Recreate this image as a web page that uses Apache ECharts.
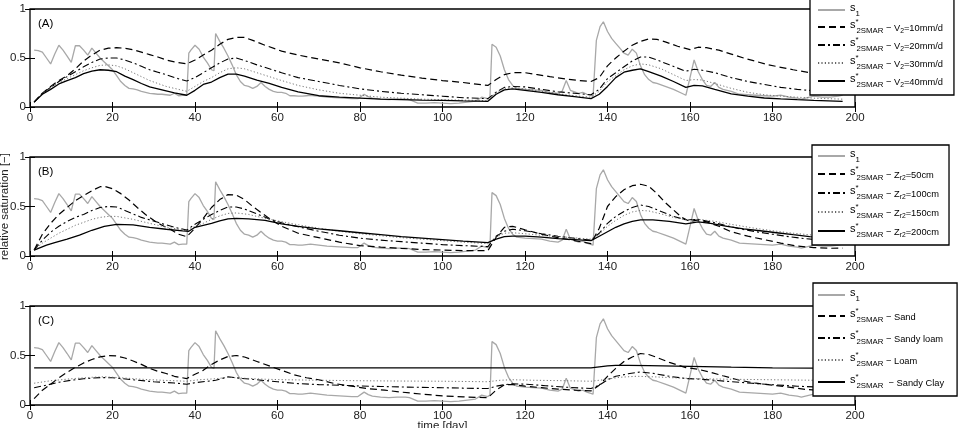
<!DOCTYPE html>
<html><head><meta charset="utf-8">
<script src="https://cdn.jsdelivr.net/npm/echarts@6/dist/echarts.min.js"></script>
<style>html,body{margin:0;padding:0;background:#fff}#c{width:963px;height:428px}</style>
</head><body><div id="c"></div>
<script>
// ---- data: [day, relative saturation] ----
const s1 = [[1,0.58],[2,0.575],[3,0.56],[4,0.5],[5,0.44],[6,0.54],[7,0.63],[8,0.58],[9,0.52],[10,0.455],[11,0.625],[12,0.625],[13,0.58],[14,0.53],[15,0.6],[16,0.55],[17,0.5],[18,0.46],[19,0.42],[20,0.38],[21,0.32],[22,0.26],[23,0.22],[24,0.19],[25,0.185],[26,0.175],[27,0.16],[28,0.15],[29,0.14],[30,0.135],[31,0.13],[32,0.13],[33,0.125],[34,0.12],[35,0.14],[36,0.115],[37,0.12],[38,0.12],[38.5,0.55],[39,0.58],[40,0.63],[41,0.59],[42,0.51],[43,0.45],[44,0.38],[44.6,0.37],[45,0.75],[46,0.67],[47,0.6],[48,0.52],[49,0.43],[50,0.33],[51,0.26],[52,0.22],[53,0.21],[54,0.19],[55,0.21],[56,0.25],[57,0.21],[58,0.18],[59,0.16],[60,0.15],[61,0.15],[62,0.14],[63,0.115],[64,0.115],[65,0.11],[66,0.11],[67,0.115],[68,0.12],[69,0.115],[70,0.11],[72,0.1],[74,0.095],[76,0.09],[78,0.085],[79.5,0.085],[81,0.13],[82,0.105],[83,0.09],[85,0.08],[87,0.075],[89,0.08],[91,0.08],[92,0.075],[94,0.04],[96,0.04],[98,0.045],[100,0.04],[102,0.035],[104,0.04],[106,0.05],[108,0.06],[109.5,0.1],[111,0.085],[111.5,0.1],[112,0.64],[113,0.61],[114,0.52],[115,0.38],[116,0.28],[117,0.22],[118,0.19],[120,0.18],[122,0.175],[124,0.17],[126,0.15],[128,0.14],[129,0.16],[130,0.27],[131,0.17],[132,0.155],[133,0.14],[134,0.15],[135,0.13],[136.5,0.11],[137.3,0.68],[138.2,0.82],[139,0.87],[140,0.77],[141,0.7],[142,0.65],[143,0.6],[144,0.55],[145,0.53],[146,0.59],[147,0.55],[148,0.42],[149,0.33],[150,0.28],[151,0.25],[152,0.24],[154,0.21],[156,0.18],[158,0.14],[159,0.12],[160,0.3],[161,0.48],[162,0.36],[163,0.28],[164,0.22],[165,0.21],[166,0.25],[167,0.2],[168,0.18],[170,0.16],[172,0.13],[174,0.125],[176,0.12],[178,0.115],[180,0.11],[182,0.12],[184,0.1],[186,0.09],[187,0.08],[188,0.09],[190,0.11],[192,0.1],[194,0.1],[196,0.11],[197,0.12]];

// Panel A: V2 = 10, 20, 30, 40 mm/d
const aV10 = [[1,0.05],[3,0.14],[5,0.21],[7,0.27],[9,0.32],[11,0.39],[13,0.47],[15,0.53],[17,0.58],[19,0.6],[21,0.605],[23,0.6],[25,0.585],[27,0.56],[29,0.535],[31,0.51],[33,0.48],[35,0.46],[38,0.44],[40,0.48],[42,0.53],[44,0.58],[46,0.64],[48,0.69],[50,0.71],[52,0.71],[54,0.68],[57,0.63],[61,0.57],[65,0.53],[70,0.49],[75,0.45],[80,0.4],[85,0.36],[90,0.325],[95,0.295],[100,0.27],[105,0.25],[111,0.22],[113,0.28],[115,0.33],[117,0.35],[120,0.35],[123,0.33],[126,0.31],[130,0.285],[133,0.27],[136,0.26],[138,0.3],[140,0.42],[142,0.5],[144,0.57],[146,0.63],[148,0.67],[150,0.695],[152,0.69],[154,0.665],[157,0.62],[160,0.585],[162,0.61],[164,0.605],[167,0.58],[170,0.54],[173,0.5],[176,0.465],[179,0.43],[182,0.405],[185,0.38],[189,0.35],[193,0.33],[197,0.31]];
const aV20 = [[1,0.05],[3,0.14],[5,0.2],[7,0.26],[9,0.31],[11,0.36],[13,0.41],[15,0.455],[17,0.49],[19,0.5],[21,0.5],[23,0.48],[25,0.45],[27,0.415],[29,0.38],[31,0.355],[33,0.33],[35,0.3],[38,0.265],[40,0.3],[42,0.35],[44,0.4],[46,0.45],[48,0.49],[50,0.5],[52,0.475],[55,0.43],[58,0.39],[61,0.35],[65,0.3],[70,0.26],[75,0.22],[80,0.185],[85,0.16],[90,0.14],[95,0.125],[100,0.11],[105,0.095],[111,0.085],[113,0.15],[115,0.2],[117,0.21],[120,0.205],[124,0.18],[128,0.155],[132,0.14],[136,0.125],[138,0.18],[140,0.29],[142,0.35],[144,0.41],[146,0.47],[148,0.51],[150,0.51],[152,0.48],[155,0.43],[159,0.365],[161,0.385],[163,0.375],[166,0.35],[170,0.3],[174,0.26],[178,0.23],[182,0.2],[186,0.18],[190,0.165],[194,0.15],[197,0.14]];
const aV30 = [[1,0.05],[3,0.14],[5,0.2],[7,0.25],[9,0.29],[11,0.33],[13,0.37],[15,0.4],[17,0.425],[19,0.43],[21,0.42],[23,0.39],[25,0.35],[27,0.31],[29,0.27],[31,0.24],[33,0.21],[35,0.19],[38,0.16],[40,0.21],[42,0.26],[44,0.3],[46,0.35],[48,0.39],[50,0.4],[52,0.39],[55,0.35],[58,0.31],[61,0.27],[65,0.22],[70,0.175],[75,0.14],[80,0.12],[85,0.1],[90,0.09],[95,0.08],[100,0.075],[105,0.07],[111,0.065],[113,0.15],[115,0.19],[117,0.195],[120,0.185],[124,0.16],[128,0.135],[132,0.115],[136,0.1],[138,0.16],[140,0.26],[142,0.32],[144,0.38],[146,0.42],[148,0.44],[150,0.43],[153,0.39],[156,0.33],[159,0.27],[161,0.28],[163,0.275],[166,0.24],[170,0.19],[174,0.15],[178,0.125],[182,0.11],[186,0.1],[190,0.09],[197,0.08]];
const aV40 = [[1,0.05],[3,0.13],[5,0.18],[7,0.235],[9,0.27],[11,0.3],[13,0.34],[15,0.365],[17,0.38],[19,0.375],[21,0.36],[23,0.315],[25,0.28],[27,0.24],[29,0.205],[31,0.185],[33,0.165],[35,0.145],[38,0.12],[40,0.17],[42,0.23],[44,0.255],[46,0.3],[48,0.335],[50,0.335],[52,0.315],[55,0.275],[58,0.24],[61,0.2],[65,0.155],[70,0.115],[75,0.1],[80,0.09],[85,0.08],[90,0.075],[95,0.07],[100,0.067],[105,0.062],[111,0.058],[113,0.13],[115,0.175],[117,0.185],[120,0.17],[124,0.15],[128,0.125],[132,0.105],[136,0.085],[138,0.13],[140,0.21],[142,0.3],[144,0.355],[146,0.375],[148,0.39],[150,0.36],[153,0.315],[156,0.26],[159,0.2],[161,0.22],[163,0.215],[166,0.18],[170,0.135],[174,0.11],[178,0.092],[182,0.083],[186,0.075],[190,0.068],[197,0.058]];

// Panel B: Zr2 = 50, 100, 150, 200 cm
const bZ50 = [[1,0.06],[3,0.22],[5,0.33],[7,0.42],[9,0.49],[11,0.56],[13,0.61],[15,0.66],[17,0.7],[18,0.705],[20,0.68],[22,0.63],[24,0.565],[26,0.49],[28,0.42],[30,0.36],[32,0.31],[34,0.27],[36,0.22],[38,0.195],[40,0.28],[42,0.38],[44,0.49],[46,0.57],[48,0.62],[50,0.615],[52,0.57],[54,0.5],[56,0.44],[58,0.38],[61,0.3],[65,0.23],[70,0.185],[75,0.14],[80,0.105],[85,0.09],[90,0.077],[95,0.065],[100,0.06],[105,0.055],[111,0.054],[113,0.19],[115,0.29],[117,0.3],[120,0.265],[124,0.22],[128,0.185],[132,0.155],[136,0.125],[138,0.28],[140,0.5],[142,0.6],[144,0.67],[146,0.71],[148,0.725],[150,0.705],[152,0.63],[154,0.54],[156,0.465],[158,0.39],[160,0.348],[162,0.365],[164,0.345],[167,0.3],[170,0.245],[174,0.2],[178,0.165],[182,0.13],[186,0.1],[190,0.085],[194,0.078],[197,0.08]];
const bZ100 = [[1,0.06],[3,0.16],[5,0.24],[7,0.3],[9,0.35],[11,0.39],[13,0.42],[15,0.46],[17,0.49],[19,0.5],[21,0.495],[23,0.46],[25,0.425],[27,0.39],[29,0.365],[31,0.34],[33,0.315],[35,0.29],[38,0.263],[40,0.32],[42,0.37],[44,0.42],[46,0.46],[48,0.495],[50,0.495],[52,0.475],[55,0.425],[58,0.375],[61,0.335],[65,0.295],[70,0.25],[75,0.21],[80,0.18],[85,0.16],[90,0.145],[95,0.13],[100,0.115],[105,0.105],[111,0.095],[113,0.2],[115,0.25],[117,0.27],[120,0.255],[124,0.225],[128,0.2],[132,0.18],[136,0.16],[138,0.23],[140,0.33],[142,0.4],[144,0.45],[146,0.49],[148,0.515],[150,0.5],[153,0.45],[156,0.4],[159,0.365],[162,0.37],[165,0.345],[168,0.315],[172,0.275],[176,0.245],[180,0.22],[184,0.195],[188,0.175],[192,0.16],[197,0.15]];
const bZ150 = [[1,0.06],[3,0.13],[5,0.18],[7,0.23],[9,0.27],[11,0.31],[13,0.34],[15,0.37],[17,0.39],[19,0.4],[21,0.4],[23,0.385],[25,0.37],[28,0.34],[31,0.31],[34,0.285],[38,0.255],[40,0.3],[42,0.33],[44,0.37],[46,0.405],[48,0.43],[50,0.435],[53,0.42],[56,0.39],[60,0.355],[65,0.315],[70,0.28],[75,0.25],[80,0.225],[85,0.205],[90,0.185],[95,0.17],[100,0.155],[105,0.14],[111,0.125],[113,0.19],[115,0.23],[117,0.235],[120,0.225],[125,0.205],[130,0.19],[136,0.17],[138,0.22],[140,0.3],[142,0.36],[144,0.41],[146,0.445],[148,0.46],[150,0.455],[153,0.425],[156,0.39],[159,0.365],[162,0.37],[166,0.35],[170,0.32],[175,0.285],[180,0.255],[185,0.23],[190,0.21],[197,0.19]];
const bZ200 = [[1,0.06],[4,0.11],[6,0.135],[9,0.17],[12,0.21],[15,0.26],[18,0.3],[21,0.32],[25,0.314],[29,0.29],[33,0.27],[37,0.253],[38.5,0.25],[40,0.29],[42,0.31],[44,0.33],[46,0.355],[48,0.375],[50,0.38],[53,0.375],[57,0.36],[61,0.325],[65,0.3],[70,0.275],[75,0.255],[80,0.235],[85,0.215],[90,0.195],[95,0.18],[100,0.165],[105,0.15],[111,0.135],[113,0.17],[115,0.195],[117,0.2],[120,0.2],[124,0.19],[128,0.175],[132,0.165],[136,0.155],[138,0.2],[140,0.245],[142,0.29],[144,0.325],[146,0.35],[148,0.365],[151,0.365],[155,0.35],[159,0.325],[162,0.345],[165,0.33],[169,0.3],[173,0.275],[177,0.255],[181,0.235],[185,0.215],[189,0.196],[193,0.18],[197,0.17]];

// Panel C: soil types
const cSand = [[1,0.065],[3,0.15],[5,0.21],[7,0.275],[9,0.33],[11,0.38],[13,0.425],[15,0.46],[17,0.486],[19,0.5],[21,0.495],[23,0.475],[25,0.445],[27,0.41],[29,0.37],[31,0.34],[33,0.318],[35,0.29],[38,0.267],[40,0.31],[42,0.35],[44,0.41],[46,0.455],[48,0.49],[50,0.5],[52,0.485],[55,0.44],[58,0.395],[61,0.35],[64,0.305],[67,0.275],[70,0.255],[74,0.215],[78,0.19],[82,0.165],[86,0.15],[90,0.13],[95,0.11],[100,0.092],[105,0.082],[111,0.074],[113,0.15],[115,0.205],[117,0.205],[120,0.19],[124,0.175],[128,0.16],[132,0.15],[136,0.142],[138,0.2],[140,0.29],[142,0.37],[144,0.44],[146,0.485],[148,0.52],[150,0.51],[152,0.48],[155,0.43],[159,0.378],[162,0.36],[165,0.33],[168,0.295],[172,0.25],[176,0.22],[180,0.2],[184,0.18],[188,0.158],[192,0.145],[197,0.13]];
const cSandyLoam = [[1,0.175],[4,0.2],[7,0.23],[10,0.25],[13,0.265],[17,0.277],[20,0.275],[25,0.255],[30,0.235],[35,0.222],[38,0.21],[40,0.225],[43,0.24],[45,0.25],[48,0.284],[51,0.27],[55,0.255],[60,0.235],[65,0.216],[70,0.206],[75,0.2],[80,0.192],[85,0.187],[90,0.182],[95,0.178],[100,0.175],[105,0.17],[111,0.166],[113,0.19],[115,0.205],[117,0.215],[120,0.21],[125,0.195],[130,0.18],[136,0.166],[138,0.2],[140,0.255],[142,0.29],[145,0.315],[148,0.334],[151,0.32],[155,0.29],[159,0.267],[162,0.262],[166,0.25],[170,0.235],[175,0.22],[180,0.205],[186,0.19],[192,0.18],[197,0.175]];
const cLoam = [[1,0.22],[5,0.245],[10,0.265],[15,0.28],[18,0.285],[22,0.275],[27,0.26],[32,0.25],[38,0.24],[41,0.255],[45,0.265],[48,0.28],[52,0.27],[57,0.26],[62,0.255],[70,0.25],[80,0.245],[90,0.242],[100,0.24],[111,0.235],[114,0.25],[117,0.255],[122,0.25],[130,0.245],[136,0.24],[139,0.255],[143,0.28],[147,0.29],[151,0.285],[156,0.275],[162,0.265],[170,0.26],[180,0.255],[190,0.25],[197,0.25]];
const cSandyClay = [[1,0.375],[136,0.375],[138,0.385],[140,0.395],[142,0.4],[145,0.4],[150,0.398],[160,0.39],[170,0.382],[180,0.376],[190,0.372],[197,0.37]];

const panelTags = ['(A)','(B)','(C)'];

const FONT = 'Liberation Sans, Arial, sans-serif';
const grids = [
  {left:30, right:108, top:9, height:98},
  {left:30, right:108, top:157, height:99},
  {left:30, right:108, top:306, height:99}
];

const styles = {
  s1:  {color:'#a8a8a8', width:1.3, type:'solid'},
  d:   {color:'#000', width:1.2, type:[7,4]},
  dd:  {color:'#000', width:1.1, type:[7,3,2,3]},
  dot: {color:'#666', width:0.9, type:[1.2,2.2]},
  sol: {color:'#000', width:1.3, type:'solid'}
};

const panels = [
  {series:[['A_s1',s1,'s1'],['A_1',aV10,'d'],['A_2',aV20,'dd'],['A_3',aV30,'dot'],['A_4',aV40,'sol']],
   labels:['{s|s}{sb|1}','{s|s}{st|*}{sb|2SMAR}{t| − V}{vs|2}{t|=10mm/d}','{s|s}{st|*}{sb|2SMAR}{t| − V}{vs|2}{t|=20mm/d}','{s|s}{st|*}{sb|2SMAR}{t| − V}{vs|2}{t|=30mm/d}','{s|s}{st|*}{sb|2SMAR}{t| − V}{vs|2}{t|=40mm/d}'],
   legend:{left:810, top:-1, padding:[3,11,5,7], itemGap:0}},
  {series:[['B_s1',s1,'s1'],['B_1',bZ50,'d'],['B_2',bZ100,'dd'],['B_3',bZ150,'dot'],['B_4',bZ200,'sol']],
   labels:['{s|s}{sb|1}','{s|s}{st|*}{sb|2SMAR}{t| − Z}{vs|r2}{t|=50cm}','{s|s}{st|*}{sb|2SMAR}{t| − Z}{vs|r2}{t|=100cm}','{s|s}{st|*}{sb|2SMAR}{t| − Z}{vs|r2}{t|=150cm}','{s|s}{st|*}{sb|2SMAR}{t| − Z}{vs|r2}{t|=200cm}'],
   legend:{left:812, top:145, padding:[3,10,5,5], itemGap:1}},
  {series:[['C_s1',s1,'s1'],['C_1',cSand,'d'],['C_2',cSandyLoam,'dd'],['C_3',cLoam,'dot'],['C_4',cSandyClay,'sol']],
   labels:['{s|s}{sb|1}','{s|s}{st|*}{sb|2SMAR}{t| − Sand}','{s|s}{st|*}{sb|2SMAR}{t| − Sandy loam}','{s|s}{st|*}{sb|2SMAR}{t| − Loam}','{s|s}{st|*}{sb|2SMAR}{t|  − Sandy Clay}'],
   legend:{left:813, top:283, padding:[4,13,5,4], itemGap:4}}
];

const rich = {
  s:  {fontSize:11, fontFamily:FONT, color:'#000', lineHeight:12, padding:[0,0,5,0]},
  st: {fontSize:8, fontFamily:FONT, color:'#000', lineHeight:8, width:1, padding:[0,0,10,0]},
  sb: {fontSize:7.8, fontFamily:FONT, color:'#000', lineHeight:9, padding:[8,0,0,0]},
  t:  {fontSize:9.3, fontFamily:FONT, color:'#000', lineHeight:12, padding:[2,0,0,0]},
  vs: {fontSize:6.8, fontFamily:FONT, color:'#000', lineHeight:8, padding:[9,0,0,0]}
};

const labelMap = {};
const xAxes = [], yAxes = [], series = [], legends = [], graphics = [];
panels.forEach((p, i) => {
  const tick = {show:true, inside:true, length:5, lineStyle:{color:'#000', width:1}};
  xAxes.push({gridIndex:i, type:'value', position:'bottom', min:0, max:200, interval:20,
    axisLine:{show:false}, axisTick:tick, splitLine:{show:false},
    axisLabel:{show:true, margin:5, color:'#222', fontSize:11.5, fontFamily:FONT},
    name: i===2 ? 'time [day]' : '', nameLocation:'middle', nameGap:15, nameMoveOverlap:false,
    nameTextStyle:{fontSize:11.5, fontFamily:FONT, color:'#222'}});
  xAxes.push({gridIndex:i, type:'value', position:'top', min:0, max:200, interval:20,
    axisLine:{show:false}, axisTick:tick, splitLine:{show:false}, axisLabel:{show:false}});
  yAxes.push({gridIndex:i, type:'value', position:'left', min:0, max:1, interval:0.5,
    axisLine:{show:false}, axisTick:tick, splitLine:{show:false},
    axisLabel:{show:true, margin:4, color:'#222', fontSize:11.5, fontFamily:FONT},
    name: i===1 ? 'relative saturation [−]' : '', nameLocation:'middle', nameGap:19, nameRotate:90, nameMoveOverlap:false,
    nameTextStyle:{fontSize:11.5, fontFamily:FONT, color:'#222'}});
  yAxes.push({gridIndex:i, type:'value', position:'right', min:0, max:1, interval:0.5,
    axisLine:{show:false}, axisTick:tick, splitLine:{show:false}, axisLabel:{show:false}});
  const names = [];
  p.series.forEach(([name, data, st], k) => {
    labelMap[name] = p.labels[k];
    names.push(name);
    series.push({type:'line', name, data, xAxisIndex:2*i, yAxisIndex:2*i,
      symbol:'none', showSymbol:false, animation:false, silent:true, z: 2 + (k===0?0:1),
      itemStyle:{color:styles[st].color, opacity:0},
      lineStyle:Object.assign({}, styles[st])});
  });
  legends.push(Object.assign({
    orient:'vertical', data:names, itemWidth:27, itemHeight:14, selectedMode:false,
    backgroundColor:'#fff', borderColor:'#000', borderWidth:1.3, borderRadius:0,
    itemStyle:{opacity:0},
    formatter: n => labelMap[n], textStyle:{rich, fontFamily:FONT, color:'#000'}
  }, p.legend));
  graphics.push({type:'text', left:38, top: grids[i].top + 9,
    style:{text:panelTags[i], font:'11.5px ' + FONT, fill:'#000'}});
});

const chart = echarts.init(document.getElementById('c'), null, {renderer:'canvas'});
chart.setOption({
  backgroundColor:'#fff',
  animation:false,
  grid: grids.map(g => Object.assign({show:true, borderColor:'#000', borderWidth:1.3, backgroundColor:'transparent', containLabel:false, outerBoundsMode:'none'}, g)),
  xAxis: xAxes,
  yAxis: yAxes,
  legend: legends,
  series,
  graphic: graphics
});
</script></body></html>
